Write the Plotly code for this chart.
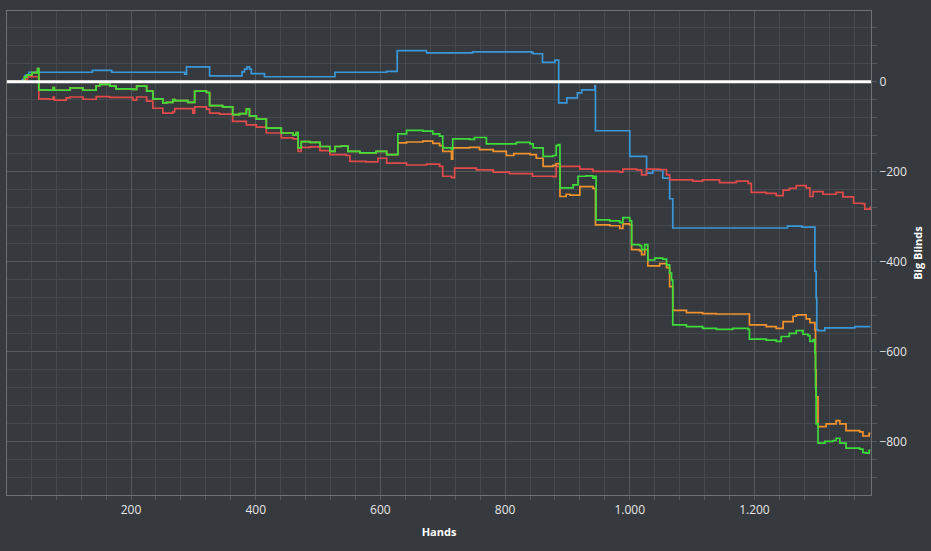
import plotly.graph_objects as go

# Hand numbers and cumulative big blinds for each line
blue_hands = [1, 26, 30, 36, 138, 169, 286, 289, 326, 378, 382, 386, 390, 393, 414, 527, 610, 627,
              674, 748, 843, 845, 860, 880, 886, 899, 916, 923, 944, 945, 1000, 1027, 1037, 1053,
              1064, 1069, 1253, 1276, 1297, 1299, 1300, 1302, 1313, 1361, 1386]
blue_bb = [0, 5, 14, 21, 25, 21, 17, 33, 13, 22, 28, 33, 28, 18, 11, 21, 23, 69,
           64, 66, 64, 62, 43, 48, -47, -36, -25, -18, -9, -109, -166, -203, -196, -214,
           -260, -325, -321, -323, -421, -480, -551, -553, -547, -544, -544]

red_hands = [1, 30, 34, 52, 69, 75, 77, 96, 102, 123, 144, 166, 203, 209, 225, 235, 251, 267, 270,
             299, 302, 321, 326, 342, 363, 385, 401, 417, 441, 460, 468, 473, 487, 503, 519, 545,
             551, 577, 596, 610, 642, 674, 695, 700, 714, 719, 754, 781, 807, 844, 877, 882, 904,
             920, 941, 968, 984, 989, 1011, 1019, 1027, 1048, 1059, 1064, 1101, 1117, 1144, 1171,
             1190, 1195, 1219, 1235, 1246, 1256, 1267, 1283, 1289, 1294, 1310, 1331, 1342, 1359,
             1372, 1377, 1386]
red_bb = [0, 5, 11, -38, -39, -34, -41, -36, -34, -39, -33, -35, -41, -34, -43, -59, -70, -67, -60,
          -70, -56, -61, -70, -72, -88, -96, -101, -114, -125, -127, -155, -146, -145, -153, -162, -164,
          -177, -178, -170, -181, -185, -183, -188, -210, -213, -192, -196, -201, -204, -210, -211, -188, -188,
          -194, -199, -199, -201, -194, -196, -207, -194, -195, -207, -218, -221, -218, -224, -221,
          -226, -246, -248, -253, -241, -237, -231, -236, -255, -244, -250, -246, -256, -270,
          -271, -283, -277]

green_hands = [1, 26, 29, 33, 41, 50, 52, 69, 75, 77, 102, 123, 144, 150, 166, 176, 203, 209, 225,
               235, 251, 257, 267, 270, 291, 302, 321, 326, 347, 363, 374, 385, 390, 401, 417, 441,
               460, 465, 468, 473, 487, 503, 519, 527, 537, 548, 567, 593, 610, 628, 642, 668, 684,
               695, 700, 714, 716, 743, 751, 770, 807, 818, 840, 845, 861, 877, 882, 885, 888, 898,
               909, 917, 930, 941, 944, 946, 968, 984, 989, 1000, 1003, 1016, 1019, 1024, 1029,
               1040, 1053, 1059, 1064, 1067, 1069, 1091, 1117, 1139, 1165, 1190, 1192, 1219, 1235,
               1243, 1256, 1267, 1278, 1286, 1289, 1294, 1297, 1298, 1299, 1302, 1313, 1326, 1331,
               1337, 1347, 1369, 1374, 1379, 1384, 1386]
green_bb = [0, 2, 10, 15, 20, 29, -18, -19, -13, -19, -14, -19, -9, -6, -10, -16, -17, -10, -21,
            -38, -47, -46, -40, -42, -46, -21, -24, -53, -56, -73, -71, -61, -76, -83, -103, -114,
            -118, -113, -147, -133, -135, -144, -155, -144, -143, -155, -158, -155, -162, -116, -108, -110, -116,
            -121, -147, -150, -127, -128, -124, -138, -138, -135, -138, -147, -166, -164, -142, -140, -236, -236,
            -229, -210, -209, -214, -210, -307, -309, -313, -302, -309, -362, -364, -373, -362, -396,
            -392, -394, -407, -425, -440, -540, -544, -548, -550, -548, -550, -572, -574, -577,
            -566, -559, -553, -561, -564, -577, -573, -603, -680, -760, -803, -799, -797, -792,
            -803, -814, -816, -824, -825, -819, -819]

orange_hands = green_hands[:49] + [
    628, 642, 668, 684, 695, 700, 714, 716, 743, 759, 781, 802, 814, 840, 850, 861, 877, 882, 888,
    898, 904, 920, 941, 945, 968, 984, 989, 1000, 1003, 1016, 1019, 1024, 1029, 1048, 1059, 1064,
    1069, 1091, 1117, 1139, 1176, 1192, 1219, 1235, 1246, 1262, 1267, 1283, 1289, 1297, 1298,
    1299, 1302, 1315, 1326, 1331, 1337, 1347, 1369, 1374, 1379, 1384, 1386]
orange_bb = green_bb[:49] + [
    -136, -134, -132, -137, -142, -155, -172, -147, -146, -151, -155, -164, -160, -162, -170, -188,
    -186, -182, -255, -250, -252, -233, -237, -318, -320, -326, -316, -318, -373, -376, -384, -373, -409,
    -404, -413, -455, -508, -513, -515, -516, -516, -540, -544, -548, -533, -521, -518, -527,
    -535, -551, -640, -700, -766, -760, -760, -753, -760, -775, -778, -787, -787, -781, -781]

bg = "#36393d"
border = "#6e7174"
major = "#55585c"
minor = "#45484c"

fig = go.Figure()
for xs, ys, col in [(blue_hands, blue_bb, "#3a98d8"),
                    (red_hands, red_bb, "#e04a4a"),
                    (orange_hands, orange_bb, "#f0922e"),
                    (green_hands, green_bb, "#3ddc3a")]:
    fig.add_trace(go.Scatter(x=xs, y=ys, mode="lines", line=dict(color=col, width=1.7, shape="hv"),
                             showlegend=False))

# white zero line drawn over the series
fig.add_shape(type="line", xref="paper", x0=0, x1=1, yref="y", y0=0, y1=0,
              line=dict(color="white", width=3), layer="above")

fig.update_layout(
    width=931, height=551,
    paper_bgcolor=bg, plot_bgcolor=bg,
    margin=dict(l=7, r=60, t=11, b=56),
    separators=",.",
    font=dict(family="Open Sans", size=12, color="#e6e6e6"),
    xaxis=dict(range=[1, 1387], tick0=0, dtick=200, tickformat=",d",
               showgrid=True, gridcolor=major, gridwidth=1, zeroline=False,
               showline=True, linecolor=border, mirror=True,
               ticks="outside", ticklen=4, tickcolor=major,
               minor=dict(tick0=0, dtick=40, showgrid=True, gridcolor=minor,
                          ticks="outside", ticklen=4, tickcolor=major),
               title=dict(text="<b>Hands</b>", font=dict(size=11, color="#ffffff"), standoff=10)),
    yaxis=dict(side="right", range=[-918, 157], tick0=0, dtick=200,
               showgrid=True, gridcolor=major, gridwidth=1, zeroline=False,
               showline=True, linecolor=border, mirror=True,
               ticks="outside", ticklen=5, tickcolor=major,
               minor=dict(tick0=0, dtick=40, showgrid=True, gridcolor=minor,
                          ticks="outside", ticklen=5, tickcolor=major),
               title=dict(text="<b>Big Blinds</b>", font=dict(size=11, color="#ffffff"), standoff=8)),
)

# drop the page's default body margin so the figure fills the window
fig.write_html("out.html", config={"displayModeBar": False},
               post_script="document.body.style.margin='0';document.body.style.background='#36393d';")
